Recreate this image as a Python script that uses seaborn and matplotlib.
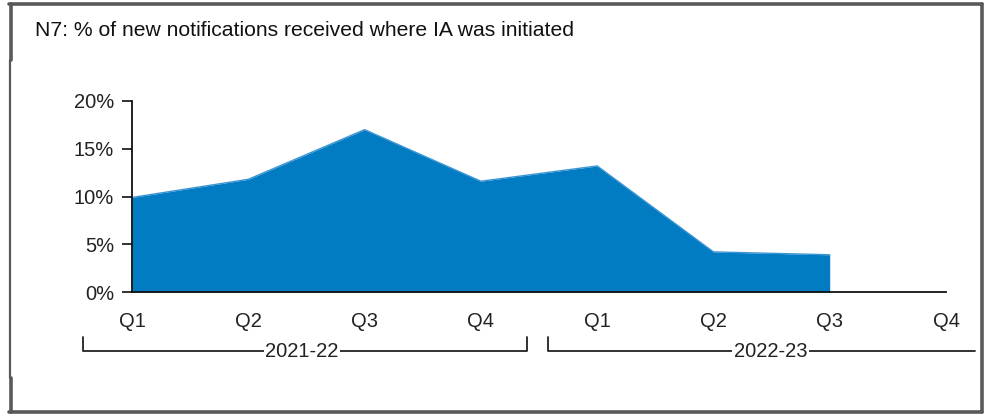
import matplotlib
matplotlib.use("Agg")
import matplotlib.pyplot as plt
import seaborn as sns
from matplotlib.lines import Line2D

# data
quarters = ['Q1', 'Q2', 'Q3', 'Q4', 'Q1', 'Q2', 'Q3', 'Q4']
years = ['2021-22', '2022-23']
pct_ia = [9.9, 11.8, 17.0, 11.6, 13.2, 4.2, 3.9]

sns.set_style('white')
plt.rcParams['font.family'] = ['Liberation Sans', 'DejaVu Sans']

fig = plt.figure(figsize=(9.86, 4.16), dpi=100)
ax = fig.add_axes([132 / 986, 124 / 416, 814 / 986, 191 / 416])

xs = list(range(len(pct_ia)))
sns.lineplot(x=xs, y=pct_ia, ax=ax, color='#3a95d4', linewidth=1.0)
ax.fill_between(xs, pct_ia, 0, color='#017bc1', linewidth=0)

ax.set_xlim(0, 7)
ax.set_ylim(0, 20)
ax.set_yticks([0, 5, 10, 15, 20])
ax.set_yticklabels(['0%', '5%', '10%', '15%', '20%'], fontsize=14.5, color='#222222')
ax.set_xticks(range(len(quarters)))
ax.set_xticklabels(quarters, fontsize=14.5, color='#222222')
ax.tick_params(axis='y', left=True, length=7, width=1.3, color='#222222', pad=6)
ax.tick_params(axis='x', bottom=False, pad=11)
for s in ['top', 'right']:
    ax.spines[s].set_visible(False)
for s in ['left', 'bottom']:
    ax.spines[s].set_color('#111111')
    ax.spines[s].set_linewidth(1.3)

# year brackets under the quarters
tr = ax.get_xaxis_transform()
yb, yt = -0.309, -0.236
groups = [(-0.42, 3.40, True), (3.58, 7.25, False)]
centers = [1.46, 5.49]
for (x0, x1, close), xmid, yr in zip(groups, centers, years):
    ax.plot([x0, x0, x1] + ([x1] if close else []),
            [yt, yb, yb] + ([yt] if close else []),
            transform=tr, clip_on=False, color='#222222', lw=1.3)
    ax.text(xmid, yb, yr, transform=tr, ha='center', va='center', fontsize=14.5,
            color='#222222', bbox=dict(facecolor='white', edgecolor='none', pad=1))

fig.text(35 / 986, 1 - 30 / 416, 'N7: % of new notifications received where IA was initiated',
         fontsize=15.2, va='center', ha='left', color='#111111')

# outer frame
fc = '#595959'
for xy in [([9, 982], [4, 4]), ([982, 982], [4, 412]), ([9, 982], [412, 412]),
           ([10.5, 10.5], [4, 60]), ([10.5, 10.5], [378, 412])]:
    fig.add_artist(Line2D([v / 986 for v in xy[0]], [1 - v / 416 for v in xy[1]],
                          color=fc, lw=2.6))
fig.add_artist(Line2D([10 / 986, 10 / 986], [1 - 60 / 416, 1 - 378 / 416],
                      color=fc, lw=1.6))

fig.savefig('out.png', dpi=100)
